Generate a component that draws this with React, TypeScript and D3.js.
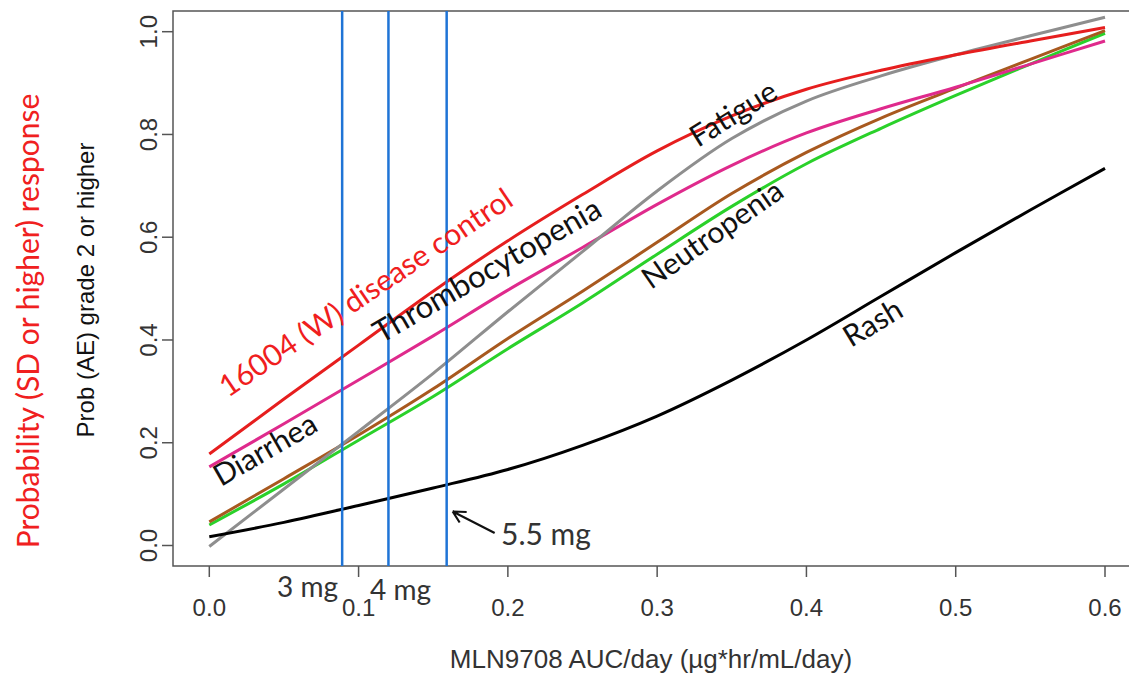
import React from 'react';
import * as d3 from 'd3';

// AUC/day grid the curves were read at
const auc = [0, 0.05, 0.1, 0.15, 0.2, 0.25, 0.3, 0.35, 0.4, 0.45, 0.5, 0.55, 0.6];

// probabilities
const diseaseControl = [0.178, 0.285, 0.39, 0.495, 0.593, 0.683, 0.768, 0.836, 0.888, 0.925, 0.955, 0.982, 1.008];
const thrombocytopenia = [0.153, 0.237, 0.322, 0.408, 0.497, 0.58, 0.664, 0.74, 0.803, 0.85, 0.892, 0.937, 0.982];
const fatigue = [-0.002, 0.11, 0.222, 0.335, 0.455, 0.572, 0.69, 0.792, 0.865, 0.914, 0.955, 0.992, 1.028];
const diarrhea = [0.046, 0.13, 0.215, 0.305, 0.403, 0.495, 0.59, 0.685, 0.765, 0.832, 0.89, 0.946, 1.002];
const neutropenia = [0.04, 0.12, 0.205, 0.29, 0.383, 0.472, 0.567, 0.66, 0.743, 0.812, 0.876, 0.937, 0.997];
const rash = [0.017, 0.045, 0.078, 0.112, 0.148, 0.195, 0.252, 0.322, 0.4, 0.485, 0.57, 0.653, 0.734];

// dose reference lines (AUC/day)
const doseAuc = [0.089, 0.12, 0.159];

const xTicks = [0, 0.1, 0.2, 0.3, 0.4, 0.5, 0.6];
const yTicks = [0, 0.2, 0.4, 0.6, 0.8, 1.0];

const series = [
  { name: 'neutropenia', values: neutropenia, color: '#2ad12a' },
  { name: 'diarrhea', values: diarrhea, color: '#a8591f' },
  { name: 'thrombocytopenia', values: thrombocytopenia, color: '#df2a8c' },
  { name: 'fatigue', values: fatigue, color: '#8e8e8e' },
  { name: 'rash', values: rash, color: '#000000' },
  { name: 'disease', values: diseaseControl, color: '#e61e1e' },
];

const W = 1129;
const H = 674;

const x = d3.scaleLinear().domain([0, 0.6]).range([209.3, 1105]);
const y = d3.scaleLinear().domain([0, 1]).range([545.5, 31.7]);

const box = { left: 173, top: 11, right: 1140, bottom: 566 };

const calibri = 'Lato, "Open Sans", sans-serif';
const arial = '"Liberation Sans", Arial, sans-serif';

// rotated curve labels
const labels = [
  { text: '16004 (W) disease control', x: 228, y: 398, angle: 34, color: '#f01e1e', size: 30 },
  { text: 'Thrombocytopenia', x: 381, y: 344, angle: 30, color: '#111', size: 31 },
  { text: 'Diarrhea', x: 221, y: 487, angle: 30, color: '#111', size: 30 },
  { text: 'Fatigue', x: 698, y: 148, angle: 32, color: '#111', size: 30 },
  { text: 'Neutropenia', x: 651, y: 290, angle: 35, color: '#111', size: 30 },
  { text: 'Rash', x: 851, y: 348, angle: 31, color: '#111', size: 30 },
];

export default function App() {
  const line = d3
    .line<number>()
    .x((_, i) => x(auc[i]))
    .y((d) => y(d))
    .curve(d3.curveCatmullRom.alpha(0.5));

  const tip = x(doseAuc[2]) + 6;

  return (
    <svg
      width={W}
      height={H}
      style={{ position: 'absolute', left: 0, top: 0, background: '#fff' }}
    >
      {/* plot box */}
      <rect
        x={box.left}
        y={box.top}
        width={box.right - box.left}
        height={box.bottom - box.top}
        fill="none"
        stroke="#555"
        strokeWidth={1.5}
      />

      {/* x axis */}
      {xTicks.map((t) => (
        <g key={'x' + t}>
          <line x1={x(t)} x2={x(t)} y1={box.bottom} y2={box.bottom + 11} stroke="#555" strokeWidth={1.5} />
          <text x={x(t)} y={616} textAnchor="middle" fontFamily={arial} fontSize={24} fill="#333">
            {t.toFixed(1)}
          </text>
        </g>
      ))}
      <text x={651} y={668} textAnchor="middle" fontFamily={arial} fontSize={26} fill="#333">
        MLN9708 AUC/day (µg*hr/mL/day)
      </text>

      {/* y axis */}
      {yTicks.map((t) => (
        <g key={'y' + t}>
          <line x1={box.left - 11} x2={box.left} y1={y(t)} y2={y(t)} stroke="#555" strokeWidth={1.5} />
          <text
            transform={`translate(157,${y(t)}) rotate(-90)`}
            textAnchor="middle"
            fontFamily={arial}
            fontSize={24}
            fill="#333"
          >
            {t.toFixed(1)}
          </text>
        </g>
      ))}
      <text
        transform="translate(94,290) rotate(-90)"
        textAnchor="middle"
        fontFamily={arial}
        fontSize={24}
        fill="#111"
      >
        Prob (AE) grade 2 or higher
      </text>
      <text
        transform="translate(39,321) rotate(-90)"
        textAnchor="middle"
        fontFamily={calibri}
        fontSize={30}
        fill="#f02020"
      >
        Probability (SD or higher) response
      </text>

      {/* curves */}
      {series.map((s) => (
        <path key={s.name} d={line(s.values) ?? ''} fill="none" stroke={s.color} strokeWidth={3} />
      ))}

      {/* dose lines */}
      {doseAuc.map((d) => (
        <line key={'d' + d} x1={x(d)} x2={x(d)} y1={box.top} y2={box.bottom} stroke="#1f74d6" strokeWidth={2.5} />
      ))}

      {/* labels on curves */}
      {labels.map((l) => (
        <text
          key={l.text}
          transform={`translate(${l.x},${l.y}) rotate(${-l.angle})`}
          fontFamily={calibri}
          fontSize={l.size}
          fill={l.color}
        >
          {l.text}
        </text>
      ))}

      {/* dose annotations */}
      <text x={277} y={597} fontFamily={calibri} fontSize={28} fill="#333">3 mg</text>
      <text x={370} y={600} fontFamily={calibri} fontSize={28} fill="#333">4 mg</text>
      <text x={501} y={545} fontFamily={calibri} fontSize={30} fill="#333">5.5 mg</text>
      <path
        d={`M${tip + 42},533 L${tip},511.5 M${tip},511.5 l14,0.5 M${tip},511.5 l7,11`}
        fill="none"
        stroke="#111"
        strokeWidth={2.2}
      />
    </svg>
  );
}
